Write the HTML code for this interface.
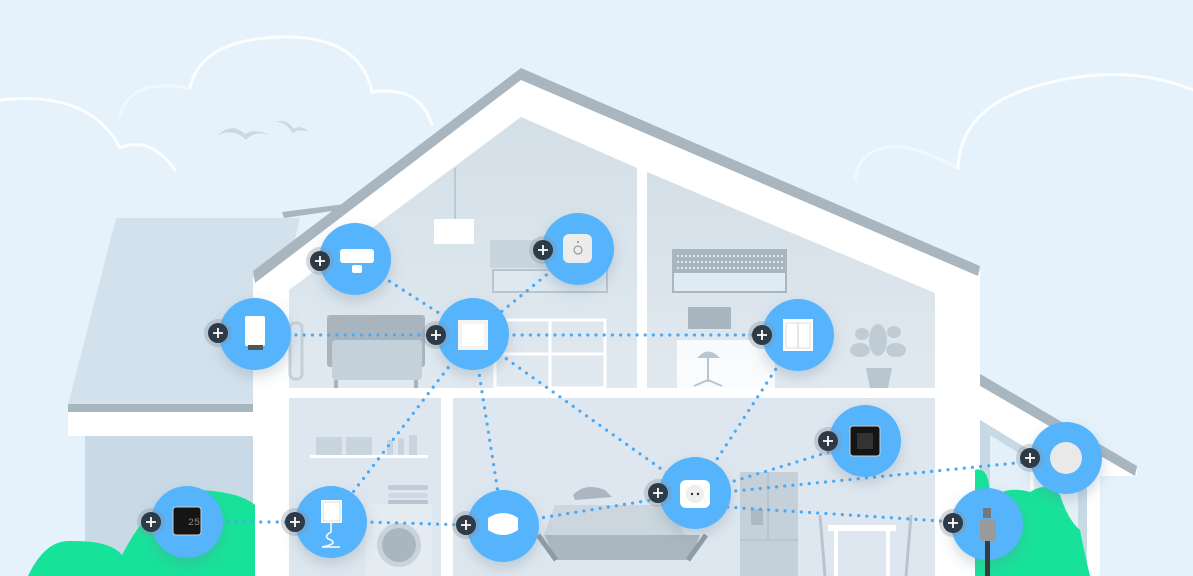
<!DOCTYPE html>
<html><head><meta charset="utf-8"><style>
html,body{margin:0;padding:0;width:1193px;height:576px;overflow:hidden;background:#e5f2fb}
svg{display:block}
</style></head><body>
<svg width="1193" height="576" viewBox="0 0 1193 576" xmlns="http://www.w3.org/2000/svg">
<defs>
<linearGradient id="room" x1="0" y1="0" x2="0" y2="1"><stop offset="0" stop-color="#d4dfe7"/><stop offset="1" stop-color="#e1e9f0"/></linearGradient>
<filter id="sh" x="-50%" y="-50%" width="200%" height="200%"><feDropShadow dx="0" dy="6" stdDeviation="7" flood-color="#6b8094" flood-opacity="0.3"/></filter>
</defs>
<rect width="1193" height="576" fill="#e5f2fb"/>
<!-- clouds -->
<g fill="none" stroke="#ffffff" stroke-width="3" stroke-linecap="round" opacity="0.85">
<path d="M0 100 Q90 90 120 148 Q150 135 175 170"/>
<path d="M190 88 Q200 40 280 37 Q360 35 372 92 Q420 85 432 125"/>
<path d="M958 168 Q960 110 1030 88 Q1120 60 1193 90"/>
</g>
<g fill="none" stroke="#ffffff" stroke-width="3" stroke-linecap="round" opacity="0.45">
<path d="M120 115 Q130 78 188 88"/>
<path d="M855 180 Q860 145 900 147 Q925 150 958 168"/>
</g>
<g fill="#c9d9e4"><path d="M218 135 Q232 122 245 134 Q256 128 270 135 Q255 130 246 140 Q234 128 218 135Z"/><path d="M276 122 Q286 118 294 129 Q300 124 309 132 Q298 128 293 133 Q286 122 276 122Z"/></g>
<!-- left annex -->
<polygon points="116,218 300,218 255,405 68,405" fill="#d3e1ec"/>
<rect x="68" y="404" width="190" height="8" fill="#a8b6c0"/>
<rect x="68" y="412" width="190" height="24" fill="#ffffff"/>
<rect x="85" y="436" width="170" height="140" fill="#c9dae6"/>
<!-- right annex -->
<polygon points="970,372 1137,470 1137,476 1100,476 1100,576 970,576" fill="#ffffff"/>
<polygon points="970,368 1137,466 1135,476 970,380" fill="#a8b6c0"/>
<polygon points="977,418 1087,485 1087,576 977,576" fill="#c8d9e6"/>
<polygon points="990,435 1078,490 1078,576 990,576" fill="#e4f0f7"/>
<rect x="1030" y="470" width="4" height="106" fill="#ffffff"/>
<!-- main house -->
<polygon points="253,278 521,72 980,272 980,576 253,576" fill="#ffffff"/>
<polygon points="253,271 521,68 980,266 978,276 521,80 255,283" fill="#a9b6bf"/>
<polygon points="282,212 345,204 346,209 284,218" fill="#a9b6bf"/>
<!-- rooms -->
<polygon points="289,290 521,117 637,168 637,388 289,388" fill="url(#room)"/>
<polygon points="647,172 935,293 935,388 647,388" fill="url(#room)"/>
<rect x="289" y="398" width="152" height="178" fill="#dee7ef"/>
<rect x="453" y="398" width="482" height="178" fill="#dee7ef"/>
<!-- furniture upper left -->
<line x1="455" y1="168" x2="455" y2="220" stroke="#b5c3cd" stroke-width="1.5"/>
<rect x="434" y="219" width="40" height="25" fill="#ffffff"/>
<rect x="490" y="240" width="118" height="28" fill="#c9d5de"/>
<rect x="493" y="270" width="114" height="22" fill="#dde8f0" stroke="#b8c5cf" stroke-width="2"/>
<rect x="327" y="315" width="98" height="52" rx="3" fill="#a8b5bf"/>
<rect x="332" y="340" width="90" height="40" rx="4" fill="#c5d1da"/>
<rect x="334" y="380" width="4" height="8" fill="#a8b5bf"/><rect x="414" y="380" width="4" height="8" fill="#a8b5bf"/>
<rect x="290" y="323" width="12" height="56" rx="5" fill="none" stroke="#c4d0d9" stroke-width="3"/>
<g stroke="#ffffff" stroke-width="3" fill="none"><rect x="495" y="320" width="110" height="68"/><line x1="550" y1="320" x2="550" y2="388"/><line x1="495" y1="354" x2="605" y2="354"/></g>
<!-- upper right furniture -->
<rect x="673" y="250" width="113" height="42" fill="#dfeaf3" stroke="#a9b6bf" stroke-width="2"/>
<rect x="673" y="250" width="113" height="23" fill="#a9b6bf"/>
<g stroke="#dfe8ef" stroke-width="2" stroke-dasharray="2 2"><line x1="677" y1="256" x2="783" y2="256"/><line x1="677" y1="262" x2="783" y2="262"/><line x1="677" y1="268" x2="783" y2="268"/></g>
<rect x="688" y="307" width="43" height="22" fill="#a9b6bf"/>
<rect x="677" y="340" width="98" height="48" fill="#ffffff" opacity="0.8"/>
<path d="M697 358 Q708 345 720 358Z" fill="#b9c6cf"/><line x1="708" y1="358" x2="708" y2="382" stroke="#b9c6cf" stroke-width="2"/><path d="M694 386 L708 380 L722 386" stroke="#b9c6cf" stroke-width="2" fill="none"/>
<polygon points="866,368 892,368 888,388 870,388" fill="#b9c6cf"/>
<g fill="#c0ccd5"><ellipse cx="878" cy="340" rx="9" ry="16"/><ellipse cx="860" cy="350" rx="10" ry="7"/><ellipse cx="896" cy="350" rx="10" ry="7"/><ellipse cx="862" cy="334" rx="7" ry="6"/><ellipse cx="894" cy="332" rx="7" ry="6"/></g>
<!-- floor line -->
<rect x="289" y="388" width="646" height="10" fill="#ffffff"/>
<rect x="637" y="165" width="10" height="225" fill="#ffffff"/>
<rect x="441" y="398" width="12" height="178" fill="#ffffff"/>
<!-- lower left furniture -->
<rect x="310" y="455" width="118" height="3" fill="#ffffff"/>
<rect x="316" y="437" width="26" height="18" fill="#c9d5de"/><rect x="346" y="437" width="26" height="18" fill="#c9d5de"/>
<rect x="387" y="440" width="6" height="15" fill="#c9d5de"/><rect x="398" y="438" width="6" height="17" fill="#c9d5de"/><rect x="409" y="435" width="8" height="20" fill="#c9d5de"/>
<rect x="388" y="485" width="40" height="5" rx="2" fill="#c0ccd5"/><rect x="388" y="493" width="40" height="5" rx="2" fill="#cfd9e1"/><rect x="388" y="500" width="40" height="5" rx="2" fill="#b9c5ce"/>
<rect x="366" y="504" width="66" height="72" fill="#e4ebf1"/>
<circle cx="399" cy="545" r="22" fill="#c9d3db"/><circle cx="399" cy="545" r="17" fill="#aab6bf"/>
<!-- lower right furniture -->
<polygon points="555,505 670,505 690,545 540,545" fill="#cbd6de"/>
<path d="M545 535 L700 535 L690 560 L555 560Z" fill="#aab6c0"/>
<path d="M538 535 L556 560 M706 535 L688 560" stroke="#8f9ca6" stroke-width="5"/>
<path d="M573 495 Q585 482 605 490 L612 497 L575 500Z" fill="#aab6c0"/>
<rect x="740" y="472" width="58" height="104" fill="#c5d1da"/><line x1="768" y1="472" x2="768" y2="540" stroke="#aeb9c2"/><line x1="740" y1="540" x2="798" y2="540" stroke="#aeb9c2"/>
<rect x="751" y="509" width="12" height="16" fill="#aeb9c2"/>
<rect x="828" y="525" width="68" height="6" fill="#ffffff"/><rect x="834" y="531" width="4" height="45" fill="#ffffff"/><rect x="886" y="531" width="4" height="45" fill="#ffffff"/>
<path d="M820 515 L825 576 M911 515 L906 576" stroke="#b9c5ce" stroke-width="3"/>
<!-- bushes -->
<path d="M28 576 Q45 540 70 541 Q110 540 122 555 Q140 520 160 505 L200 490 Q240 492 255 505 L255 576Z" fill="#17e29a"/>
<path d="M975 470 Q990 465 990 500 Q1005 485 1030 492 Q1050 480 1060 495 Q1068 520 1080 530 Q1085 555 1090 576 L975 576Z" fill="#17e29a"/>
<!-- dotted links -->
<g stroke="#49a9f5" stroke-width="3.2" stroke-linecap="round" stroke-dasharray="0 8.2" fill="none">
<line x1="255" y1="335" x2="473" y2="335"/>
<line x1="473" y1="335" x2="798" y2="335"/>
<line x1="355" y1="259" x2="473" y2="335"/>
<line x1="578" y1="249" x2="473" y2="335"/>
<line x1="473" y1="335" x2="331" y2="521"/>
<line x1="473" y1="335" x2="503" y2="524"/>
<line x1="473" y1="335" x2="695" y2="493"/>
<line x1="798" y1="335" x2="695" y2="493"/>
<line x1="187" y1="522" x2="331" y2="522"/>
<line x1="331" y1="521" x2="503" y2="526"/>
<line x1="503" y1="524" x2="695" y2="493"/>
<line x1="695" y1="493" x2="865" y2="441"/>
<line x1="695" y1="495" x2="1066" y2="458"/>
<line x1="695" y1="505" x2="987" y2="524"/>
</g>
<!-- nodes -->
<g fill="#54b4fc" filter="url(#sh)">
<circle cx="355" cy="259" r="36"/><circle cx="578" cy="249" r="36"/><circle cx="255" cy="334" r="36"/><circle cx="473" cy="334" r="36"/><circle cx="798" cy="335" r="36"/><circle cx="865" cy="441" r="36"/><circle cx="695" cy="493" r="36"/><circle cx="1066" cy="458" r="36"/><circle cx="987" cy="524" r="36"/><circle cx="187" cy="522" r="36"/><circle cx="331" cy="522" r="36"/><circle cx="503" cy="526" r="36"/>
</g>
<!-- device icons -->
<rect x="340" y="249" width="34" height="14" rx="3" fill="#fff"/><rect x="352" y="265" width="10" height="8" rx="2" fill="#fff"/>
<rect x="563" y="234" width="29" height="29" rx="6" fill="#ececec"/><circle cx="578" cy="250" r="4" fill="none" stroke="#999" stroke-width="1.2"/><circle cx="578" cy="242" r="1" fill="#888"/>
<rect x="245" y="316" width="20" height="30" rx="2" fill="#fff"/><rect x="248" y="345" width="15" height="5" fill="#555"/>
<rect x="458" y="320" width="30" height="30" fill="#f4f4f4"/><rect x="462" y="324" width="22" height="22" fill="#fff"/>
<rect x="783" y="319" width="30" height="32" fill="#fff"/><rect x="786" y="323" width="24" height="25" fill="none" stroke="#ddd"/><line x1="798" y1="323" x2="798" y2="348" stroke="#ccc"/>
<rect x="850" y="426" width="30" height="30" rx="3" fill="#151515" stroke="#ccc"/><rect x="857" y="433" width="16" height="16" fill="#333"/>
<rect x="680" y="480" width="30" height="28" rx="6" fill="#fff"/><circle cx="695" cy="494" r="9" fill="#eee"/><circle cx="692" cy="494" r="1.2" fill="#333"/><circle cx="698" cy="494" r="1.2" fill="#333"/>
<circle cx="1066" cy="458" r="16" fill="#e9e9e9"/>
<rect x="980" y="519" width="16" height="22" rx="2" fill="#9a9a9a"/><rect x="983" y="508" width="8" height="10" fill="#777"/><rect x="985" y="541" width="5" height="35" fill="#3a3a3a"/>
<rect x="173" y="507" width="28" height="28" rx="3" fill="#151515" stroke="#ccc"/><text x="188" y="525" font-family="Liberation Mono, monospace" font-size="10" fill="#888">25</text>
<rect x="321" y="500" width="21" height="23" rx="1" fill="#fff"/><rect x="323" y="502" width="17" height="19" fill="none" stroke="#ddd"/><path d="M331 523 L331 532 Q322 537 331 540 Q338 544 322 547 L340 547" stroke="#fff" fill="none" stroke-width="1.5"/>
<path d="M488 518 Q503 508 518 518 L518 530 Q503 540 488 530Z" fill="#fff"/>
<!-- plus buttons -->
<g>
<g transform="translate(320,261)"><circle r="14" fill="#8a96a0" opacity="0.35"/><circle r="10" fill="#2e3a45"/><path d="M-5 0H5M0 -5V5" stroke="#fff" stroke-width="1.8"/></g>
<g transform="translate(543,250)"><circle r="14" fill="#8a96a0" opacity="0.35"/><circle r="10" fill="#2e3a45"/><path d="M-5 0H5M0 -5V5" stroke="#fff" stroke-width="1.8"/></g>
<g transform="translate(218,333)"><circle r="14" fill="#8a96a0" opacity="0.35"/><circle r="10" fill="#2e3a45"/><path d="M-5 0H5M0 -5V5" stroke="#fff" stroke-width="1.8"/></g>
<g transform="translate(436,335)"><circle r="14" fill="#8a96a0" opacity="0.35"/><circle r="10" fill="#2e3a45"/><path d="M-5 0H5M0 -5V5" stroke="#fff" stroke-width="1.8"/></g>
<g transform="translate(762,335)"><circle r="14" fill="#8a96a0" opacity="0.35"/><circle r="10" fill="#2e3a45"/><path d="M-5 0H5M0 -5V5" stroke="#fff" stroke-width="1.8"/></g>
<g transform="translate(828,441)"><circle r="14" fill="#8a96a0" opacity="0.35"/><circle r="10" fill="#2e3a45"/><path d="M-5 0H5M0 -5V5" stroke="#fff" stroke-width="1.8"/></g>
<g transform="translate(658,493)"><circle r="14" fill="#8a96a0" opacity="0.35"/><circle r="10" fill="#2e3a45"/><path d="M-5 0H5M0 -5V5" stroke="#fff" stroke-width="1.8"/></g>
<g transform="translate(1030,458)"><circle r="14" fill="#8a96a0" opacity="0.35"/><circle r="10" fill="#2e3a45"/><path d="M-5 0H5M0 -5V5" stroke="#fff" stroke-width="1.8"/></g>
<g transform="translate(953,523)"><circle r="14" fill="#8a96a0" opacity="0.35"/><circle r="10" fill="#2e3a45"/><path d="M-5 0H5M0 -5V5" stroke="#fff" stroke-width="1.8"/></g>
<g transform="translate(151,522)"><circle r="14" fill="#8a96a0" opacity="0.35"/><circle r="10" fill="#2e3a45"/><path d="M-5 0H5M0 -5V5" stroke="#fff" stroke-width="1.8"/></g>
<g transform="translate(295,522)"><circle r="14" fill="#8a96a0" opacity="0.35"/><circle r="10" fill="#2e3a45"/><path d="M-5 0H5M0 -5V5" stroke="#fff" stroke-width="1.8"/></g>
<g transform="translate(466,525)"><circle r="14" fill="#8a96a0" opacity="0.35"/><circle r="10" fill="#2e3a45"/><path d="M-5 0H5M0 -5V5" stroke="#fff" stroke-width="1.8"/></g>
</g>
</svg>
</body></html>
